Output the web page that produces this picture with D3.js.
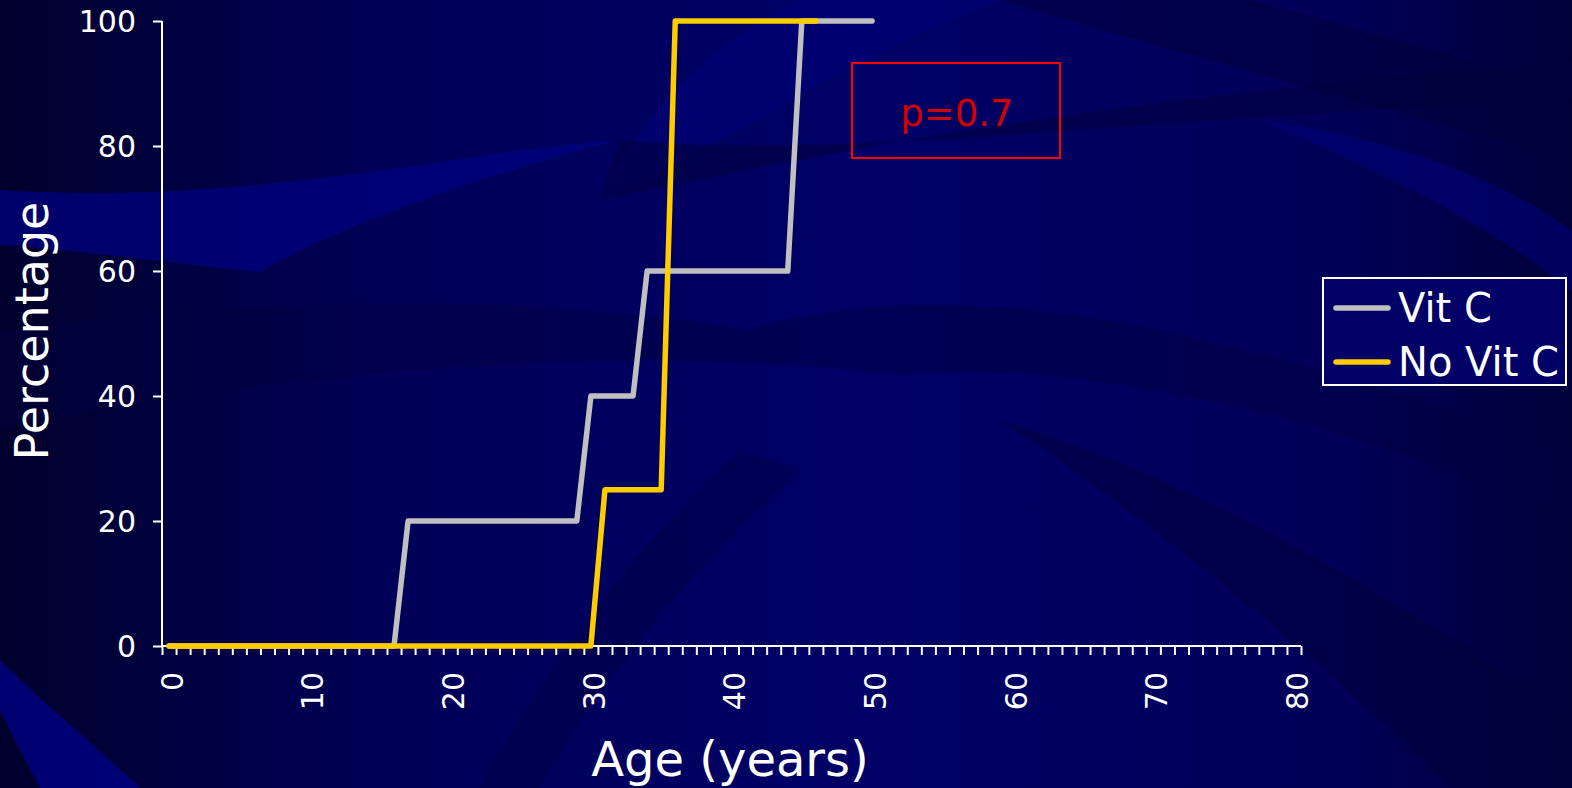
<!DOCTYPE html>
<html>
<head>
<meta charset="utf-8">
<script src="https://cdn.jsdelivr.net/npm/d3@7"></script>
<style>
  html, body { margin: 0; padding: 0; background: #000050; }
  svg { display: block; }
</style>
</head>
<body>
<svg id="chart" width="1572" height="788"></svg>
<script>
// ---- data ----
const ageCategories = d3.range(0, 81);           // category axis 0..80
const xTickLabels = [0, 10, 20, 30, 40, 50, 60, 70, 80];
const yTickValues = [0, 20, 40, 60, 80, 100];
const seriesNames = ["Vit C", "No Vit C"];
const seriesColors = ["#c0c0c0", "#ffcc00"];
const vitCAges   = [0, 16, 17, 29, 30, 33, 34, 44, 45, 50];
const vitCValues = [0, 0, 20, 20, 40, 40, 60, 60, 100, 100];
const noVitCAges   = [0, 30, 31, 35, 36, 46];
const noVitCValues = [0, 0, 25, 25, 100, 100];
const pText = "p=0.7";

const svg = d3.select("#chart");
const W = 1572, H = 788;

// ---- background ----
const defs = svg.append("defs");
const bg = defs.append("linearGradient").attr("id", "bg").attr("x1", 0).attr("x2", 1).attr("y1", 0).attr("y2", 0);
bg.append("stop").attr("offset", 0).attr("stop-color", "#00002c");
bg.append("stop").attr("offset", 0.25).attr("stop-color", "#000058");
bg.append("stop").attr("offset", 0.55).attr("stop-color", "#000066");
bg.append("stop").attr("offset", 0.85).attr("stop-color", "#000058");
bg.append("stop").attr("offset", 1).attr("stop-color", "#000038");
svg.append("rect").attr("width", W).attr("height", H).attr("fill", "url(#bg)");

const swooshes = [
  {d: "M0,190 C150,200 300,185 520,150 L620,140 C500,170 350,220 260,272 C160,262 80,250 0,245 Z", fill: "#000080", op: 0.75},
  {d: "M600,200 C650,100 720,40 800,0 L1000,0 C900,40 820,80 760,120 Z", fill: "#000078", op: 0.6},
  {d: "M600,200 C800,160 1000,110 1572,60 L1572,100 C1100,120 850,160 620,140 Z", fill: "#00003c", op: 0.55},
  {d: "M0,330 C250,300 500,290 750,330 C950,270 1200,320 1572,450 L1572,520 C1300,400 1050,360 900,375 C700,350 400,350 0,430 Z", fill: "#000040", op: 0.45},
  {d: "M1000,0 L1250,0 C1400,40 1500,70 1572,90 L1572,160 C1400,110 1200,60 1000,0 Z", fill: "#00003a", op: 0.55},
  {d: "M1260,120 C1400,140 1500,180 1572,230 L1572,290 C1480,220 1380,170 1260,120 Z", fill: "#00007a", op: 0.6},
  {d: "M1000,420 C1200,480 1400,600 1572,720 L1572,788 L1450,788 C1300,640 1150,520 1000,420 Z", fill: "#000038", op: 0.5},
  {d: "M0,660 C40,700 100,750 140,788 L40,788 C25,760 10,730 0,710 Z", fill: "#000090", op: 0.7},
  {d: "M480,788 C540,680 620,560 740,450 L800,470 C700,560 600,680 540,788 Z", fill: "#000040", op: 0.4}
];
svg.append("g").selectAll("path").data(swooshes).join("path")
  .attr("d", d => d.d).attr("fill", d => d.fill).attr("opacity", d => d.op);

// ---- scales ----
const x0 = 162, x1 = 1301, yTop = 21, yBot = 646;
const xBand = d3.scaleBand().domain(ageCategories).range([x0, x1]).padding(0);
const xBound = d3.scaleLinear().domain([0, ageCategories.length]).range([x0, x1]);
const y = d3.scaleLinear().domain([0, 100]).range([yBot, yTop]);
const xc = a => xBand(a) + xBand.bandwidth() / 2;

const font = "'DejaVu Sans', Verdana, sans-serif";

// ---- axes ----
const yAxis = svg.append("g").attr("transform", `translate(${x0},0)`)
  .call(d3.axisLeft(y).tickValues(yTickValues).tickSize(9).tickPadding(17).tickFormat(d3.format("d")));
yAxis.select(".domain").attr("stroke", "#fff").attr("stroke-width", 2).attr("d", `M0,${yTop}V${yBot}`);
yAxis.selectAll(".tick line").attr("stroke", "#fff").attr("stroke-width", 2);
yAxis.selectAll(".tick text").attr("fill", "#fff").style("font-family", font).style("font-size", "30px").attr("dy", "0.36em");

const xTicks = svg.append("g").attr("transform", `translate(0,${yBot})`)
  .call(d3.axisBottom(xBound).tickValues(d3.range(0, ageCategories.length + 1)).tickSize(9).tickFormat(""));
xTicks.select(".domain").attr("stroke", "#fff").attr("stroke-width", 2).attr("d", `M${x0},0H${x1}`);
xTicks.selectAll(".tick line").attr("stroke", "#fff").attr("stroke-width", 2);

const xLabels = svg.append("g").attr("transform", `translate(0,${yBot})`)
  .call(d3.axisBottom(xBand).tickValues(xTickLabels).tickSize(0).tickFormat(d3.format("d")));
xLabels.select(".domain").remove();
xLabels.selectAll(".tick text")
  .attr("fill", "#fff").style("font-family", font).style("font-size", "30px")
  .attr("text-anchor", "end").attr("transform", "rotate(-90)")
  .attr("x", -26).attr("y", 3).attr("dy", "0.36em");

// ---- axis titles ----
svg.append("text").attr("transform", `translate(48,331) rotate(-90)`)
  .attr("text-anchor", "middle").attr("fill", "#fff")
  .style("font-family", font).style("font-size", "46px").text("Percentage");
svg.append("text").attr("x", 730).attr("y", 776)
  .attr("text-anchor", "middle").attr("fill", "#fff")
  .style("font-family", font).style("font-size", "48px").text("Age (years)");

// ---- lines ----
const series = [
  {name: seriesNames[0], color: seriesColors[0], pts: vitCAges.map((a, i) => [a, vitCValues[i]])},
  {name: seriesNames[1], color: seriesColors[1], pts: noVitCAges.map((a, i) => [a, noVitCValues[i]])}
];
const line = d3.line().x(d => xc(d[0])).y(d => y(d[1]));
svg.append("g").selectAll("path").data(series).join("path")
  .attr("d", d => line(d.pts)).attr("fill", "none").attr("stroke", d => d.color)
  .attr("stroke-width", 5.5).attr("stroke-linejoin", "round").attr("stroke-linecap", "round");

// ---- p-value box ----
svg.append("rect").attr("x", 852).attr("y", 63).attr("width", 208).attr("height", 95)
  .attr("fill", "none").attr("stroke", "#ff0000").attr("stroke-width", 2);
svg.append("text").attr("x", 957).attr("y", 126).attr("text-anchor", "middle")
  .attr("fill", "#d40000").style("font-family", font).style("font-size", "37px").text(pText);

// ---- legend ----
const lg = svg.append("g");
lg.append("rect").attr("x", 1323).attr("y", 278).attr("width", 243).attr("height", 107)
  .attr("fill", "#000066").attr("stroke", "#fff").attr("stroke-width", 2);
const items = lg.selectAll("g.item").data(series).join("g").attr("class", "item")
  .attr("transform", (d, i) => `translate(0,${308 + i * 54})`);
items.append("line").attr("x1", 1336).attr("x2", 1388).attr("y1", 0).attr("y2", 0)
  .attr("stroke", d => d.color).attr("stroke-width", 5.5).attr("stroke-linecap", "round");
items.append("text").attr("x", 1398).attr("y", 0).attr("dy", "0.36em").attr("fill", "#fff")
  .style("font-family", font).style("font-size", "40px").text(d => d.name);
</script>
</body>
</html>
